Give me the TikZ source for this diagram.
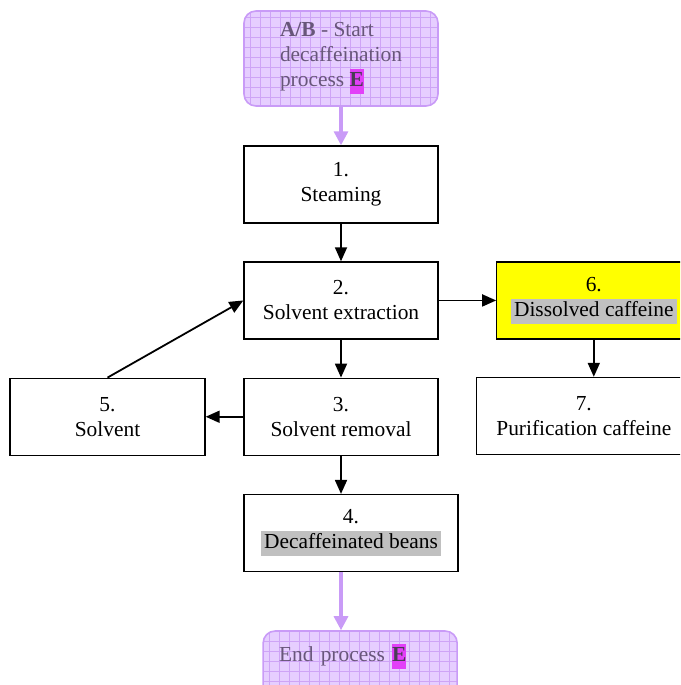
\documentclass[tikz,border=0pt]{standalone}
\usepackage{fontspec}
\setmainfont{Liberation Serif}
\usepackage{tikz}
\usetikzlibrary{positioning}
\usetikzlibrary{arrows.meta}

\definecolor{lilacfill}{RGB}{230,206,255}
\definecolor{lilacgrid}{RGB}{206,164,246}
\definecolor{lilacline}{RGB}{201,155,247}
\definecolor{lilactext}{RGB}{104,86,122}
\definecolor{hlpink}{RGB}{226,64,248}
\definecolor{hlgray}{RGB}{192,192,192}
\definecolor{stepyellow}{RGB}{255,255,0}

\newcommand{\hlgray}[1]{{\setlength{\fboxsep}{0pt}\colorbox{hlgray}{\strut\,#1\,}}}
\newcommand{\hlpink}[1]{{\setlength{\fboxsep}{0pt}\colorbox{hlpink}{\strut\textcolor{lilactext!70!black}{\textbf{#1}}}}}

\begin{document}
\begin{tikzpicture}[
    font=\fontsize{21.4}{25}\selectfont,
    box/.style={draw, line width=1.3pt, minimum width=194pt, minimum height=77pt, inner sep=2pt, align=center},
    lilac/.style={draw=lilacline, line width=1.6pt, fill=lilacfill, rounded corners=12pt,
        text=lilactext, minimum width=194pt, align=left,
        path picture={\draw[lilacgrid, line width=0.6pt] (path picture bounding box.south west) grid[step=10pt] (path picture bounding box.north east);}},
    arr/.style={line width=1.8pt, -{Triangle[length=14pt, width=12pt]}},
    lilacarr/.style={lilacline, line width=3.2pt, -{Triangle[length=14pt, width=14pt]}}
]
    \useasboundingbox (0,0) rectangle (680pt,-685pt);
    \clip (0,0) rectangle (680pt,-685pt);

    \node [lilac, minimum height=95pt] (start) at (341pt,-58.5pt) {\textbf{A/B} - Start\\decaffeination\\process \hlpink{E}};
    \node [box, below=38.5pt of start] (n1) {1.\\Steaming};
    \node [box, below=37.7pt of n1] (n2) {2.\\Solvent extraction};
    \node [box, below=38pt of n2] (n3) {3.\\Solvent removal};
    \node [box, minimum width=214pt, below=38pt of n3.south west, anchor=north west] (n4) {4.\\\hlgray{Decaffeinated beans}};
    \node [box, minimum width=195pt, left=37.7pt of n3] (n5) {5.\\Solvent};
    \node [box, fill=stepyellow, right=57.5pt of n2] (n6) {6.\\\hlgray{Dissolved caffeine}};
    \node [box, minimum width=214pt, below=37.2pt of n6.south west, xshift=-20pt, anchor=north west] (n7) {7.\\Purification caffeine};
    \node [lilac, text width=162pt, inner xsep=16pt, inner ysep=13pt, text depth=34pt, below=58pt of n4.south west, xshift=19pt, anchor=north west] (fin) {End process \hlpink{E}};

    \draw [lilacarr] (start) -- (n1);
    \draw [arr] (n1) -- (n2);
    \draw [arr] (n2) -- (n3);
    \draw [arr] (n2) -- (n6);
    \draw [arr] (n6) -- (n6 |- n7.north);
    \draw [arr] (n3) -- (n5);
    \draw [arr] (n5.north) -- (n2.west);
    \draw [arr] (n3) -- (n3 |- n4.north);
    \draw [lilacarr] (n4.south -| n3) -- (n3 |- fin.north);
\end{tikzpicture}
\end{document}
